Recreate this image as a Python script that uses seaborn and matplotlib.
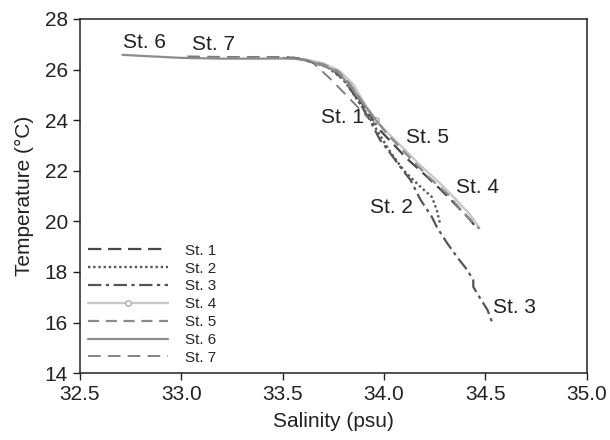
import matplotlib
matplotlib.use("Agg")
import matplotlib.pyplot as plt
import seaborn as sns
import pandas as pd

# T-S profiles per station (salinity in psu, temperature in degC)
sal_st1 = [33.55, 33.65, 33.72, 33.79, 33.84, 33.88, 33.93, 33.98, 34.04, 34.11, 34.20, 34.28, 34.36, 34.42, 34.45]
temp_st1 = [26.47, 26.32, 26.12, 25.80, 25.30, 24.80, 24.20, 23.60, 23.10, 22.50, 21.85, 21.25, 20.60, 20.10, 19.80]

sal_st2 = [33.60, 33.72, 33.80, 33.86, 33.92, 33.98, 34.03, 34.08, 34.11, 34.18, 34.236, 34.26, 34.275]
temp_st2 = [26.40, 26.10, 25.60, 24.90, 24.20, 23.40, 22.75, 22.20, 21.90, 21.36, 20.96, 20.45, 19.94]

sal_st3 = [33.62, 33.74, 33.81, 33.87, 33.93, 33.98, 34.03, 34.08, 34.13, 34.18, 34.236, 34.26, 34.31, 34.36, 34.41, 34.44, 34.44, 34.47, 34.51, 34.536]
temp_st3 = [26.38, 26.05, 25.50, 24.80, 24.00, 23.22, 22.70, 22.15, 21.64, 20.85, 20.17, 19.78, 19.15, 18.59, 18.08, 17.68, 17.41, 17.01, 16.50, 15.94]

sal_st4 = [33.60, 33.70, 33.78, 33.85, 33.90, 33.96, 34.03, 34.10, 34.18, 34.27, 34.35, 34.42, 34.47]
temp_st4 = [26.42, 26.25, 25.95, 25.40, 24.70, 24.00, 23.40, 22.85, 22.20, 21.55, 20.90, 20.30, 19.75]

sal_st5 = [33.50, 33.60, 33.70, 33.77, 33.83, 33.89, 33.95, 34.01, 34.07, 34.14, 34.22, 34.31, 34.38, 34.44, 34.47]
temp_st5 = [26.46, 26.40, 26.20, 25.95, 25.45, 24.75, 24.10, 23.50, 23.00, 22.40, 21.75, 21.10, 20.45, 19.95, 19.70]

sal_st6 = [32.71, 32.85, 33.00, 33.20, 33.40, 33.55, 33.62, 33.70, 33.77, 33.83, 33.88, 33.93, 33.97]
temp_st6 = [26.58, 26.52, 26.46, 26.43, 26.43, 26.44, 26.35, 26.15, 25.90, 25.40, 24.85, 24.30, 23.90]

sal_st7 = [33.03, 33.20, 33.40, 33.52, 33.58, 33.65, 33.73, 33.80, 33.86, 33.92]
temp_st7 = [26.52, 26.50, 26.50, 26.50, 26.45, 26.26, 25.67, 25.10, 24.60, 24.10]

stations = ["St. 1", "St. 2", "St. 3", "St. 4", "St. 5", "St. 6", "St. 7"]
salinity = [sal_st1, sal_st2, sal_st3, sal_st4, sal_st5, sal_st6, sal_st7]
temperature = [temp_st1, temp_st2, temp_st3, temp_st4, temp_st5, temp_st6, temp_st7]

# Label anchor points (salinity, temperature)
label_pos = {
    "St. 6": (32.712, 27.05),
    "St. 7": (33.055, 26.97),
    "St. 1": (33.687, 24.09),
    "St. 5": (34.11, 23.30),
    "St. 4": (34.354, 21.32),
    "St. 2": (33.933, 20.53),
    "St. 3": (34.536, 16.58),
}

x_ticks = [32.5, 33.0, 33.5, 34.0, 34.5, 35.0]
y_ticks = [14, 16, 18, 20, 22, 24, 26, 28]

styles = {
    "St. 1": dict(color="#474747", linestyle=(0, (6, 3)), lw=1.6),
    "St. 2": dict(color="#555555", linestyle=(0, (1, 1.2)), lw=1.7),
    "St. 3": dict(color="#555555", linestyle=(0, (6, 2, 1.5, 2)), lw=1.6),
    "St. 4": dict(color="#c8c8c8", linestyle="-", lw=1.7, marker="o", ms=4,
                  mfc="white", mec="#999999", mew=0.8, markevery=[5]),
    "St. 5": dict(color="#8a8a8a", linestyle=(0, (5, 3)), lw=1.6),
    "St. 6": dict(color="#8c8c8c", linestyle="-", lw=1.6),
    "St. 7": dict(color="#7a7a7a", linestyle=(0, (7, 4)), lw=1.3),
}

sns.set_theme(style="ticks")
plt.rcParams["font.family"] = ["Liberation Sans", "DejaVu Sans"]

fig = plt.figure(figsize=(6.1, 4.4), dpi=100)
ax = fig.add_axes([0.131, 0.152, 0.831, 0.805])

for name, s, t in zip(stations, salinity, temperature):
    df = pd.DataFrame({"Salinity": s, "Temperature": t})
    sns.lineplot(data=df, x="Salinity", y="Temperature", ax=ax, sort=False,
                 estimator=None, label=name, **styles[name])

for name, (sx, ty) in label_pos.items():
    ax.text(sx, ty, name, fontsize=15, ha="left", va="center", color="#222222")

ax.set_xlim(32.5, 35.0)
ax.set_ylim(14, 28)
ax.set_xticks(x_ticks)
ax.set_xticklabels([f"{v:.1f}" for v in x_ticks])
ax.set_yticks(y_ticks)
ax.set_yticklabels([str(v) for v in y_ticks])
ax.tick_params(axis="both", labelsize=15, direction="out", length=5, width=1,
               colors="#222222", top=False, right=False)
for sp in ax.spines.values():
    sp.set_visible(True)
    sp.set_color("#222222")
    sp.set_linewidth(1.1)

ax.set_xlabel("Salinity (psu)", fontsize=15, color="#222222", labelpad=6)
ax.set_ylabel("Temperature (°C)", fontsize=15, color="#222222", labelpad=8)

leg = ax.legend(loc="lower left", bbox_to_anchor=(0.0, 0.0), frameon=False,
                fontsize=11, handlelength=5.2, handletextpad=1.1,
                labelspacing=0.25, borderaxespad=0.3, borderpad=0.25)

fig.savefig("out.png", dpi=100)
